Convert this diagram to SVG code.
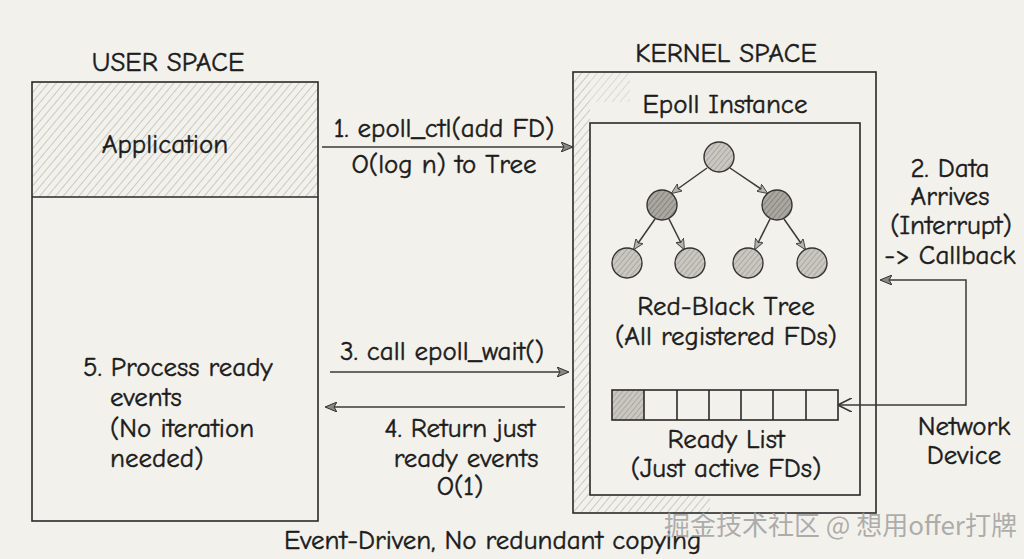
<svg xmlns="http://www.w3.org/2000/svg" width="1024" height="559" viewBox="0 0 1024 559">
<defs>
<pattern id="hatch" width="6" height="6" patternUnits="userSpaceOnUse" patternTransform="rotate(40)">
<line x1="0" y1="0" x2="0" y2="6" stroke="#9a9890" stroke-width="0.9"/>
</pattern>
<pattern id="hatchDark" width="4" height="4" patternUnits="userSpaceOnUse" patternTransform="rotate(40)">
<rect width="4" height="4" fill="#a9a7a0"/>
<line x1="0" y1="0" x2="0" y2="4" stroke="#6f6d67" stroke-width="1.2"/>
</pattern>
<pattern id="hatchMid" width="4" height="4" patternUnits="userSpaceOnUse" patternTransform="rotate(40)">
<rect width="4" height="4" fill="#c9c7c0"/>
<line x1="0" y1="0" x2="0" y2="4" stroke="#8c8a84" stroke-width="1"/>
</pattern>
<marker id="arr" viewBox="0 0 12 10" refX="11" refY="5" markerWidth="12" markerHeight="10" markerUnits="userSpaceOnUse" orient="auto-start-reverse">
<path d="M0,0 L12,5 L0,10 L3,5 Z" fill="#8a8883" stroke="#333" stroke-width="1"/>
</marker>
<marker id="arrT" viewBox="0 0 12 10" refX="11" refY="5" markerWidth="11" markerHeight="9" markerUnits="userSpaceOnUse" orient="auto">
<path d="M0,0 L12,5 L0,10 L3,5 Z" fill="#b5b3ad" stroke="#444" stroke-width="1"/>
</marker>
<marker id="arrO" viewBox="0 0 12 12" refX="11" refY="6" markerWidth="14" markerHeight="14" markerUnits="userSpaceOnUse" orient="auto-start-reverse">
<path d="M0,0 L12,6 L0,12" fill="none" stroke="#333" stroke-width="1.4"/>
</marker>
</defs>
<style>
text{font-family:"Comic Neue","Liberation Sans","DejaVu Sans",sans-serif;fill:#1c1c1c;font-size:27px;stroke:#1c1c1c;stroke-width:0.45}
.c{text-anchor:middle}
.wm{font-family:"Noto Sans CJK SC",sans-serif;font-size:26px;fill:#a0a0a0;fill-opacity:0.85;stroke:none}
.box{fill:none;stroke:#2a2a2a;stroke-width:1.6}
.ln{fill:none;stroke:#3a3a3a;stroke-width:1.5}
.node{stroke:#333;stroke-width:1.4}
</style>
<rect width="1024" height="559" fill="#f3f1eb"/>

<g id="user-space">
<text class="c" x="168" y="71">USER SPACE</text>
<rect x="32" y="82" width="286" height="115" fill="url(#hatch)"/>
<rect class="box" x="32" y="82" width="286" height="439"/>
<line class="box" x1="32" y1="197" x2="318" y2="197"/>
<text class="c" x="165" y="153" font-size="29">Application</text>
<text x="83" y="376">5. Process ready</text>
<text x="110" y="406">events</text>
<text x="110" y="437">(No iteration</text>
<text x="110" y="467">needed)</text>
</g>

<g id="kernel-space">
<text class="c" x="726" y="62">KERNEL SPACE</text>
<rect x="573" y="72" width="17" height="441" fill="url(#hatch)"/>
<rect x="590" y="495" width="120" height="18" fill="url(#hatch)"/>
<rect x="590" y="72" width="40" height="30" fill="url(#hatch)" opacity="0.6"/>
<rect class="box" x="573" y="72" width="303" height="441"/>
<text class="c" x="725" y="113">Epoll Instance</text>
</g>

<g id="epoll-instance">
<rect class="box" x="590" y="123" width="270" height="372" fill="#f4f2ed"/>
</g>

<g id="rb-tree">
<g id="tree-edges" class="ln">
<line x1="707" y1="168" x2="672" y2="193" marker-end="url(#arrT)"/>
<line x1="730" y1="168" x2="767" y2="193" marker-end="url(#arrT)"/>
<line x1="655" y1="219" x2="634" y2="249" marker-end="url(#arrT)"/>
<line x1="669" y1="219" x2="684" y2="249" marker-end="url(#arrT)"/>
<line x1="770" y1="219" x2="755" y2="249" marker-end="url(#arrT)"/>
<line x1="784" y1="219" x2="805" y2="249" marker-end="url(#arrT)"/>
</g>
<circle class="node" cx="719" cy="157" r="15" fill="url(#hatchMid)"/>
<circle class="node" cx="662" cy="205" r="15" fill="url(#hatchDark)"/>
<circle class="node" cx="777" cy="205" r="15" fill="url(#hatchDark)"/>
<circle class="node" cx="627" cy="263" r="15" fill="url(#hatchMid)"/>
<circle class="node" cx="690" cy="263" r="15" fill="url(#hatchMid)"/>
<circle class="node" cx="748" cy="263" r="15" fill="url(#hatchMid)"/>
<circle class="node" cx="812" cy="263" r="15" fill="url(#hatchMid)"/>
<text class="c" x="726" y="315">Red-Black Tree</text>
<text class="c" x="726" y="345">(All registered FDs)</text>
</g>

<g id="ready-list">
<rect x="612" y="390" width="32" height="30" fill="url(#hatchMid)"/>
<rect class="box" x="612" y="390" width="226" height="30"/>
<g class="box">
<line x1="644" y1="390" x2="644" y2="420"/>
<line x1="677" y1="390" x2="677" y2="420"/>
<line x1="709" y1="390" x2="709" y2="420"/>
<line x1="741" y1="390" x2="741" y2="420"/>
<line x1="773" y1="390" x2="773" y2="420"/>
<line x1="806" y1="390" x2="806" y2="420"/>
</g>
<text class="c" x="726" y="448">Ready List</text>
<text class="c" x="726" y="477">(Just active FDs)</text>
</g>

<g id="network-device">
<text class="c" x="964" y="435">Network</text>
<text class="c" x="964" y="464">Device</text>
</g>

<g id="connectors">
<line class="ln" x1="322" y1="147" x2="572" y2="147" marker-end="url(#arr)"/>
<line class="ln" x1="330" y1="372" x2="568" y2="372" marker-end="url(#arr)"/>
<line class="ln" x1="565" y1="407" x2="326" y2="407" marker-end="url(#arr)"/>
<polyline class="ln" points="881,280 966,280 966,405 839,405" marker-start="url(#arr)" marker-end="url(#arrO)"/>
</g>

<g id="labels">
<text class="c" x="444" y="137">1. epoll_ctl(add FD)</text>
<text class="c" x="444" y="173">O(log n) to Tree</text>
<text class="c" x="442" y="360">3. call epoll_wait()</text>
<text class="c" x="460" y="437">4. Return just</text>
<text class="c" x="466" y="467">ready events</text>
<text class="c" x="460" y="495">O(1)</text>
<text class="c" x="950" y="177">2. Data</text>
<text class="c" x="950" y="205">Arrives</text>
<text class="c" x="951" y="234">(Interrupt)</text>
<text class="c" x="950" y="264">-&gt; Callback</text>
<text x="284" y="549">Event-Driven, No redundant copying</text>
<text class="wm" x="664" y="535">掘金技术社区 @ 想用offer打牌</text>
</g>
</svg>
